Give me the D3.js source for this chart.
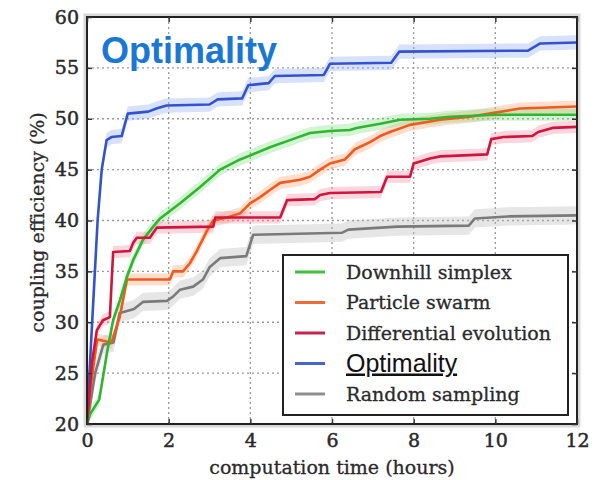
<!DOCTYPE html>
<html><head><meta charset="utf-8">
<script src="https://cdn.jsdelivr.net/npm/d3@7"></script>
<style>body{margin:0;background:#fff}svg{display:block}</style>
</head><body><svg id="c" width="613" height="480"></svg>
<script>
// ---- data ----
const xTicks = [0, 2, 4, 6, 8, 10, 12];
const yTicks = [20, 25, 30, 35, 40, 45, 50, 55, 60];
const seriesNames = ["Downhill simplex", "Particle swarm", "Differential evolution", "Optimality", "Random sampling"];
const downhillSimplex = [[0,20],[0.08,21],[0.3,22.4],[0.49,27],[0.64,30.2],[0.81,32.2],[0.98,34.5],[1.13,36.1],[1.37,38.1],[1.62,39.4],[1.79,40.2],[2.28,41.7],[2.77,43.3],[3.26,45],[3.75,46],[4.0,46.4],[4.48,47.2],[4.97,47.9],[5.46,48.6],[5.95,48.8],[6.44,48.9],[6.6,49.1],[7.18,49.5],[7.67,49.9],[8.4,50.0],[8.9,50.2],[10.0,50.4],[12,50.4]];
const particleSwarm = [[0,20],[0.1,24],[0.25,28.3],[0.6,28.0],[0.8,30.5],[0.98,34.2],[2.03,34.2],[2.11,35],[2.35,35],[2.52,35.8],[2.69,37],[2.94,39],[3.09,40],[3.43,40.3],[3.75,40.7],[4.0,41.7],[4.24,42.3],[4.48,43],[4.73,43.7],[5.22,44],[5.46,44.3],[5.71,45],[5.95,45.6],[6.32,46],[6.56,47],[6.93,47.7],[7.18,48.3],[7.42,48.7],[7.91,49.4],[8.65,49.9],[9.38,50.2],[10.0,50.6],[10.6,51],[12,51.2]];
const differentialEvolution = [[0,20],[0.12,26],[0.24,29.2],[0.39,30.2],[0.56,30.5],[0.64,36.9],[1.05,37],[1.13,37.8],[1.22,38.3],[1.54,38.3],[1.71,39.3],[3.09,39.4],[3.14,40.3],[4.73,40.3],[4.9,42],[5.58,42.1],[5.71,42.5],[5.95,42.7],[7.2,42.8],[7.35,44.3],[7.91,44.3],[8.0,45.6],[8.4,46.1],[8.65,46.3],[9.8,46.5],[9.9,48.0],[10.2,48.2],[10.9,48.3],[11.05,48.7],[11.4,49.1],[12,49.2]];
const optimality = [[0,20.5],[0.1,28],[0.26,40],[0.36,45],[0.48,47.9],[0.6,48.2],[0.85,48.3],[0.95,49.8],[1.0,50.5],[1.5,50.7],[1.7,51.0],[1.95,51.3],[3.0,51.4],[3.2,51.9],[3.8,52.0],[3.95,53.3],[4.2,53.4],[4.45,53.5],[4.6,54.2],[5.8,54.3],[5.95,55.4],[7.45,55.5],[7.65,56.6],[10.8,56.7],[11.1,57.4],[12,57.5]];
const randomSampling = [[0,20],[0.2,25],[0.4,27.8],[0.65,28],[0.8,30.9],[0.98,31.1],[1.15,31.3],[1.37,32],[1.96,32.1],[2.1,32.5],[2.28,33.2],[2.6,33.5],[2.84,34.2],[3.0,35.4],[3.26,36.3],[3.9,36.5],[4.07,38.6],[6.25,38.8],[6.4,39.1],[7.6,39.4],[9.35,39.5],[9.5,40.2],[10.3,40.4],[12,40.5]];
const bandHalfWidth = [0.6, 0.6, 0.6, 0.7, 0.9];
const xLabel = "computation time (hours)";
const yLabel = "coupling efficiency (%)";
const titleText = "Optimality";

// ---- styles ----
const lineColors = ["#2fb52f", "#f05a1e", "#d0153c", "#3352cf", "#7a7a7a"];
const bandColors = ["#7fe07f", "#ffa070", "#f48aa0", "#8fa8f0", "#b8b8b8"];
const legendColors = ["#3dc23d", "#f06a35", "#c2264a", "#4a62cc", "#8f8f8f"];
const allSeries = [downhillSimplex, particleSwarm, differentialEvolution, optimality, randomSampling];
const drawOrder = [4, 3, 1, 0, 2];

const svg = d3.select("#c");
const L = 87, R = 577, T = 17, B = 424;
const x = d3.scaleLinear().domain([0, 12]).range([L, R]);
const y = d3.scaleLinear().domain([20, 60]).range([B, T]);
const serif = "'DejaVu Serif', serif";

svg.append("rect").attr("width", 613).attr("height", 480).attr("fill", "#fff");

svg.append("rect").attr("x", L - 2).attr("y", T - 2).attr("width", R - L + 4).attr("height", B - T + 4)
  .attr("fill", "none").attr("stroke", "#d8d8d8").attr("stroke-width", 3);

const defs = svg.append("defs");
defs.append("clipPath").attr("id", "clip").append("rect").attr("x", L).attr("y", T).attr("width", R - L).attr("height", B - T);

const grid = svg.append("g").attr("stroke", "#9a9a9a").attr("stroke-width", 1.3).attr("stroke-dasharray", "2,3");
grid.selectAll(".gx").data(xTicks.slice(1, -1)).join("line")
  .attr("x1", d => x(d)).attr("x2", d => x(d)).attr("y1", T).attr("y2", B);
grid.selectAll(".gy").data(yTicks.slice(1, -1)).join("line")
  .attr("x1", L).attr("x2", R).attr("y1", d => y(d)).attr("y2", d => y(d));

const plot = svg.append("g").attr("clip-path", "url(#clip)");
const line = d3.line().x(d => x(d[0])).y(d => y(d[1]));
const area = (hw) => d3.area().x(d => x(d[0])).y0(d => y(d[1] - hw)).y1(d => y(d[1] + hw));

drawOrder.forEach(i => {
  plot.append("path").datum(allSeries[i]).attr("d", area(bandHalfWidth[i]))
    .attr("fill", bandColors[i]).attr("opacity", 0.35);
});
drawOrder.forEach(i => {
  plot.append("path").datum(allSeries[i]).attr("d", line)
    .attr("fill", "none").attr("stroke", lineColors[i]).attr("stroke-width", 2.6)
    .attr("stroke-linejoin", "round");
});

svg.append("rect").attr("x", L).attr("y", T).attr("width", R - L).attr("height", B - T)
  .attr("fill", "none").attr("stroke", "#222").attr("stroke-width", 2);

const xAxis = d3.axisBottom(x).tickValues(xTicks).tickSize(-5).tickPadding(10).tickFormat(d3.format("d"));
const yAxis = d3.axisLeft(y).tickValues(yTicks).tickSize(-5).tickPadding(8).tickFormat(d3.format("d"));
const gx = svg.append("g").attr("transform", `translate(0,${B})`).call(xAxis);
const gy = svg.append("g").attr("transform", `translate(${L},0)`).call(yAxis);
const gx2 = svg.append("g").attr("transform", `translate(0,${T})`).call(d3.axisTop(x).tickValues(xTicks).tickSize(-5).tickFormat(""));
const gy2 = svg.append("g").attr("transform", `translate(${R},0)`).call(d3.axisRight(y).tickValues(yTicks).tickSize(-5).tickFormat(""));
[gx, gy, gx2, gy2].forEach(g => {
  g.select(".domain").remove();
  g.selectAll(".tick line").attr("stroke", "#333").attr("stroke-width", 1.5);
  g.selectAll("text").attr("font-family", serif).attr("font-size", 19).attr("fill", "#2a2a2a")
    .attr("stroke", "#2a2a2a").attr("stroke-width", 0.5);
});

svg.append("text").attr("x", (L + R) / 2).attr("y", 474).attr("text-anchor", "middle")
  .attr("font-family", serif).attr("font-size", 19).attr("fill", "#2a2a2a").attr("stroke", "#2a2a2a").attr("stroke-width", 0.3)
  .text(xLabel);
svg.append("text").attr("transform", `translate(44,${(T + B) / 2 + 2}) rotate(-90)`).attr("text-anchor", "middle")
  .attr("font-family", serif).attr("font-size", 19).attr("fill", "#2a2a2a").attr("stroke", "#2a2a2a").attr("stroke-width", 0.3)
  .text(yLabel);

svg.append("text").attr("x", 101).attr("y", 63).attr("font-family", "'Liberation Sans', Arial, sans-serif")
  .attr("font-weight", "bold").attr("font-size", 36).attr("fill", "#1a78d2").text(titleText);

const lg = svg.append("g");
lg.append("rect").attr("x", 283).attr("y", 255).attr("width", 285).attr("height", 160)
  .attr("fill", "#fff").attr("stroke", "#222").attr("stroke-width", 2);
const rowY = d3.scalePoint().domain(d3.range(seriesNames.length)).range([272, 394]);
seriesNames.forEach((name, i) => {
  const yy = rowY(i);
  lg.append("line").attr("x1", 295).attr("x2", 325).attr("y1", yy).attr("y2", yy)
    .attr("stroke", legendColors[i]).attr("stroke-width", 3);
  const t = lg.append("text").attr("x", 346).attr("y", yy + 6.5).text(name);
  if (name === "Optimality") {
    t.attr("font-family", "'Liberation Sans', Arial, sans-serif").attr("font-size", 25).attr("fill", "#111")
      .attr("text-decoration", "underline").attr("y", yy + 8);
  } else {
    t.attr("font-family", serif).attr("font-size", 19).attr("fill", "#2a2a2a").attr("stroke", "#2a2a2a").attr("stroke-width", 0.3);
  }
});
</script></body></html>
